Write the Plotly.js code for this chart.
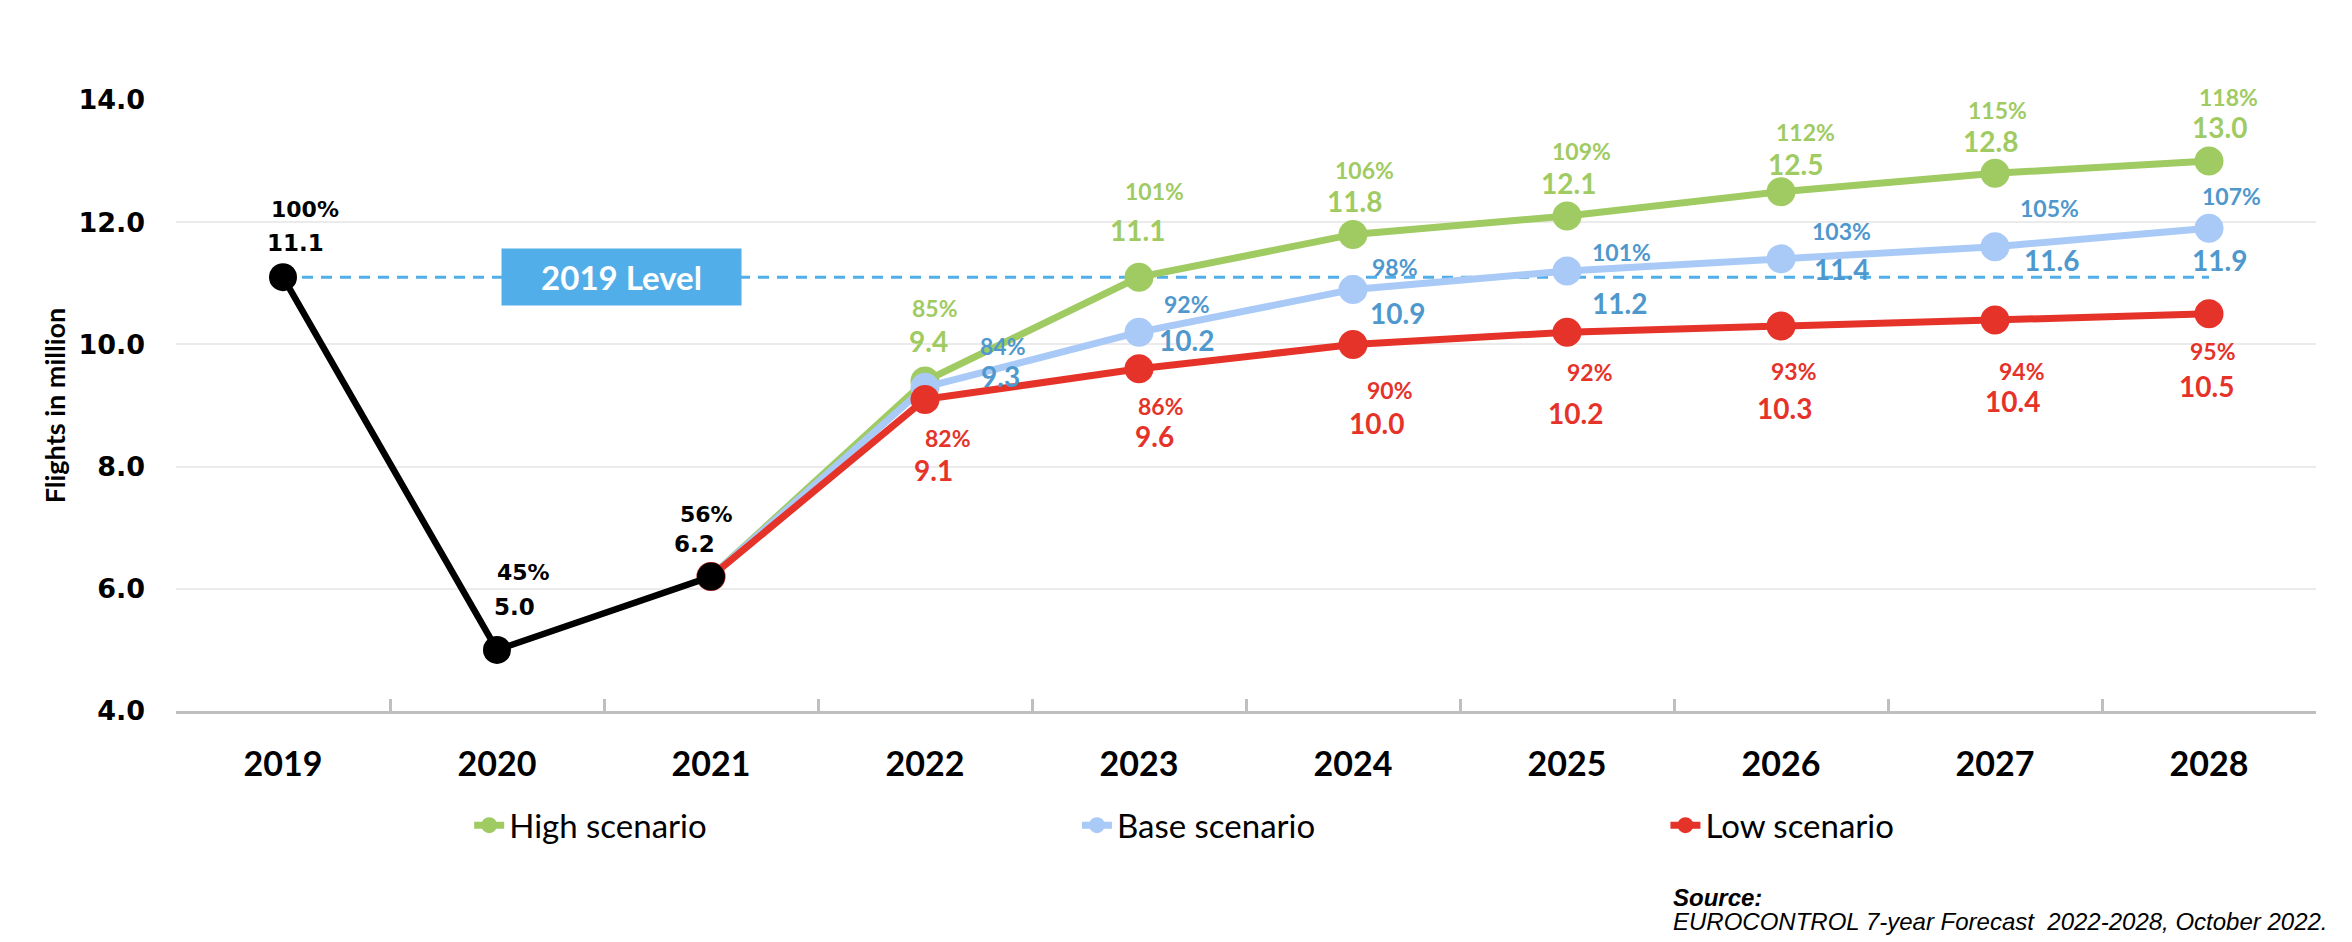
<!DOCTYPE html>
<html>
<head>
<meta charset="utf-8">
<script src="https://cdn.plot.ly/plotly-3.0.1.min.js"></script>
<style>
  html, body { margin: 0; padding: 0; background: #ffffff; }
  #chart { width: 2352px; height: 942px; }
</style>
</head>
<body>
<div id="chart"></div>
<script>
// ---------------- data ----------------
const years = ['2019', '2020', '2021', '2022', '2023', '2024', '2025', '2026', '2027', '2028'];

const histYears = ['2019', '2020', '2021'];
const histValues = [11.1, 5.0, 6.2];
const histPct = ['100%', '45%', '56%'];

const scenYears = ['2021', '2022', '2023', '2024', '2025', '2026', '2027', '2028'];
const highValues = [6.2, 9.4, 11.1, 11.8, 12.1, 12.5, 12.8, 13.0];
const highPct = [null, '85%', '101%', '106%', '109%', '112%', '115%', '118%'];
const baseValues = [6.2, 9.3, 10.2, 10.9, 11.2, 11.4, 11.6, 11.9];
const basePct = [null, '84%', '92%', '98%', '101%', '103%', '105%', '107%'];
const lowValues = [6.2, 9.1, 9.6, 10.0, 10.2, 10.3, 10.4, 10.5];
const lowPct = [null, '82%', '86%', '90%', '92%', '93%', '94%', '95%'];

const yTickValues = [4, 6, 8, 10, 12, 14];
const levelLabel = '2019 Level';
const seriesNames = ['High scenario', 'Base scenario', 'Low scenario'];
const sourceTitle = 'Source:';
const sourceText = 'EUROCONTROL 7-year Forecast  2022-2028, October 2022.';

// ---------------- styles / label placement (pixel offsets, dx right, dy down) ----------------
const GREEN = '#9FCB62', BLUE_LINE = '#A9CAF7', BLUE_TXT = '#4F98CD', RED = '#E5332A', BLACK = '#000000';
const LEVEL_BLUE = '#52AEE8';

const histPctOff = [[22, -68], [26, -77], [-5, -62]];
const histValOff = [[12, -34], [17, -43], [-17, -33]];
const highPctOff = [null, [10, -73], [15, -86], [11, -64], [14, -65], [24, -60], [2, -63], [19, -64]];
const highValOff = [null, [3, -40], [-2, -47], [1, -33], [1, -33], [14, -28], [-5, -32], [10, -34]];
const basePctOff = [null, [78, -41], [48, -28], [42, -22], [54, -19], [60, -28], [54, -39], [22, -32]];
const baseValOff = [null, [75, -11], [47, 8], [44, 24], [52, 32], [60, 10], [56, 13], [10, 32]];
const lowPctOff = [null, [23, 39], [22, 37], [37, 46], [23, 40], [13, 45], [27, 51], [4, 37]];
const lowValOff = [null, [8, 71], [15, 67], [23, 79], [8, 81], [3, 82], [17, 81], [-3, 72]];

const FONT_CAL = 'Lato, "Open Sans", sans-serif';
const FONT_VER = '"DejaVu Sans", Verdana, sans-serif';

// ---------------- traces ----------------
const traces = [
  {
    type: 'scatter', mode: 'lines', x: [years[0], years[years.length - 1]],
    y: [histValues[0], histValues[0]],
    line: { color: LEVEL_BLUE, width: 3, dash: '11px,8px' },
    showlegend: false, hoverinfo: 'skip'
  },
  {
    type: 'scatter', mode: 'lines+markers', name: seriesNames[0], x: scenYears, y: highValues,
    line: { color: GREEN, width: 7 }, marker: { color: GREEN, size: 29 }, legend: 'legend'
  },
  {
    type: 'scatter', mode: 'lines+markers', name: seriesNames[1], x: scenYears, y: baseValues,
    line: { color: BLUE_LINE, width: 7 }, marker: { color: BLUE_LINE, size: 29 }, legend: 'legend2'
  },
  {
    type: 'scatter', mode: 'lines+markers', name: seriesNames[2], x: scenYears, y: lowValues,
    line: { color: RED, width: 7 }, marker: { color: RED, size: 29 }, legend: 'legend3'
  },
  {
    type: 'scatter', mode: 'lines+markers', name: 'Actual', x: histYears, y: histValues,
    line: { color: BLACK, width: 6.5 }, marker: { color: BLACK, size: 28 }, showlegend: false
  }
];

// ---------------- annotations ----------------
const annotations = [];
// category axis: annotation x given as the category's serial number
function addLabel(yr, yv, text, off, color, size, family) {
  annotations.push({
    x: years.indexOf(yr), y: yv, xref: 'x', yref: 'y', text: text, showarrow: false,
    xanchor: 'center', yanchor: 'middle', xshift: off[0], yshift: -off[1],
    font: { family: family, size: size, color: color, weight: 'bold' }
  });
}
histYears.forEach((yr, i) => {
  addLabel(yr, histValues[i], histPct[i], histPctOff[i], BLACK, 22, FONT_VER);
  addLabel(yr, histValues[i], histValues[i].toFixed(1), histValOff[i], BLACK, 23, FONT_VER);
});
function addSeries(vals, pcts, pOff, vOff, color) {
  scenYears.forEach((yr, i) => {
    if (pcts[i] === null) return;
    addLabel(yr, vals[i], pcts[i], pOff[i], color, 23, FONT_CAL);
    addLabel(yr, vals[i], vals[i].toFixed(1), vOff[i], color, 28, FONT_CAL);
  });
}
addSeries(highValues, highPct, highPctOff, highValOff, GREEN);
addSeries(baseValues, basePct, basePctOff, baseValOff, BLUE_TXT);
addSeries(lowValues, lowPct, lowPctOff, lowValOff, RED);

// "2019 Level" box
annotations.push({
  x: 1.584, y: histValues[0], xref: 'x', yref: 'y', text: levelLabel, showarrow: false,
  xanchor: 'center', yanchor: 'middle', width: 239, height: 56, borderpad: 0,
  bgcolor: LEVEL_BLUE, font: { family: FONT_CAL, size: 33, color: '#ffffff', weight: 'bold' }
});

// source
annotations.push({
  x: 0.6986, y: -0.306, xref: 'paper', yref: 'paper', xanchor: 'left', yanchor: 'middle',
  text: '<b><i>' + sourceTitle + '</i></b>', showarrow: false, align: 'left',
  font: { family: '"Liberation Sans", Arial, sans-serif', size: 24, color: '#000000' }
});
annotations.push({
  x: 0.6986, y: -0.345, xref: 'paper', yref: 'paper', xanchor: 'left', yanchor: 'middle',
  text: '<i>' + sourceText + '</i>', showarrow: false, align: 'left',
  font: { family: '"Liberation Sans", Arial, sans-serif', size: 24, color: '#000000' }
});

const legendBase = {
  orientation: 'h', yanchor: 'middle', xanchor: 'left', y: -0.187,
  bgcolor: 'rgba(0,0,0,0)', borderwidth: 0,
  font: { family: FONT_CAL, size: 33, color: '#000000' }
};

const layout = {
  width: 2352, height: 942,
  paper_bgcolor: '#ffffff', plot_bgcolor: '#ffffff',
  margin: { l: 176, r: 36, t: 100, b: 231, pad: 0 },
  showlegend: true,
  xaxis: {
    type: 'category', categoryorder: 'array', categoryarray: years,
    range: [-0.5, years.length - 0.5],
    showgrid: false, zeroline: false,
    showline: true, linecolor: '#BFBFBF', linewidth: 3,
    ticks: 'inside', tickson: 'boundaries', ticklen: 12, tickwidth: 3, tickcolor: '#BFBFBF',
    ticklabelstandoff: 21,
    tickfont: { family: FONT_CAL, size: 34, color: '#000000', weight: 'bold' },
    fixedrange: true
  },
  yaxis: {
    range: [4, 14], tickvals: yTickValues, tickformat: '.1f',
    showgrid: true, gridcolor: '#EBEBEB', gridwidth: 2,
    zeroline: false, showline: false, ticks: '',
    ticklabelstandoff: 30,
    tickfont: { family: FONT_VER, size: 27, color: '#000000', weight: 'bold' },
    title: { text: 'Flights in million', standoff: 4,
             font: { family: FONT_CAL, size: 27, color: '#000000', weight: 'bold' } },
    fixedrange: true
  },
  legend: Object.assign({}, legendBase, { x: 0.137 }),
  legend2: Object.assign({}, legendBase, { x: 0.421 }),
  legend3: Object.assign({}, legendBase, { x: 0.696 }),
  annotations: annotations
};

Plotly.newPlot('chart', traces, layout, { displayModeBar: false, staticPlot: true });
</script>
</body>
</html>
